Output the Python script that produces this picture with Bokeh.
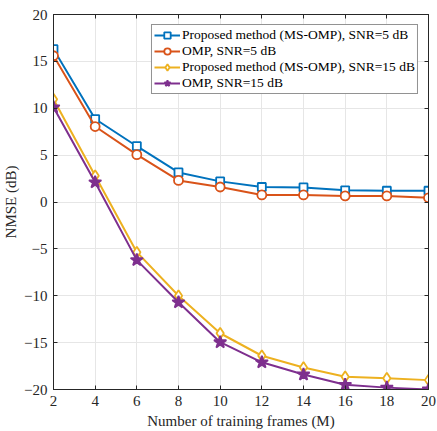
from bokeh.plotting import figure
from bokeh.models import LinearAxis, Range1d, FixedTicker, Legend, LegendItem
from bokeh.embed import file_html
from bokeh.resources import INLINE

frames = [2, 4, 6, 8, 10, 12, 14, 16, 18, 20]
msomp_5 = [16.3, 8.85, 5.95, 3.15, 2.2, 1.6, 1.55, 1.25, 1.2, 1.2]
omp_5 = [15.6, 8.05, 5.05, 2.3, 1.6, 0.75, 0.75, 0.65, 0.65, 0.45]
msomp_15 = [10.95, 2.8, -5.35, -10.0, -14.0, -16.4, -17.65, -18.65, -18.8, -19.0]
omp_15 = [10.1, 2.1, -6.2, -10.7, -14.95, -17.1, -18.4, -19.5, -19.8, -20.0]
x_ticks = [2, 4, 6, 8, 10, 12, 14, 16, 18, 20]
y_ticks = [-20, -15, -10, -5, 0, 5, 10, 15, 20]

labels = ["Proposed method (MS-OMP), SNR=5 dB", "OMP, SNR=5 dB",
          "Proposed method (MS-OMP), SNR=15 dB", "OMP, SNR=15 dB"]
colors = ["#0072BD", "#D95319", "#EDB120", "#7E2F8E"]
markers = ["square", "circle", "diamond", "star"]
sizes = [8, 9, 11, 13]

FONT = "Liberation Serif"
AX = "#262626"

p = figure(width=437, height=431, output_backend="svg", toolbar_location=None,
           x_range=Range1d(2, 20), y_range=Range1d(-20, 20),
           min_border_left=52, min_border_right=9, min_border_top=14, min_border_bottom=42)
p.outline_line_color = AX
p.background_fill_color = "white"

for ax in [p.xaxis[0], p.yaxis[0]]:
    ax.major_tick_in = 4
    ax.major_tick_out = 0
    ax.minor_tick_line_color = None
    ax.axis_line_color = AX
    ax.major_tick_line_color = AX
    ax.major_label_text_font = FONT
    ax.major_label_text_font_size = "15px"
    ax.major_label_text_color = AX
    ax.axis_label_text_font = FONT
    ax.axis_label_text_font_size = "15px"
    ax.axis_label_text_font_style = "normal"
    ax.axis_label_text_color = AX
p.xaxis.ticker = FixedTicker(ticks=x_ticks)
p.yaxis.ticker = FixedTicker(ticks=y_ticks)
p.xaxis.axis_label = "Number of training frames (M)"
p.yaxis.axis_label = "NMSE (dB)"
p.xaxis.major_label_standoff = 6
p.yaxis.major_label_standoff = 6
p.xaxis.axis_label_standoff = 4
p.yaxis.axis_label_standoff = 2

for loc, tk in [("right", y_ticks), ("above", x_ticks)]:
    a = LinearAxis(ticker=FixedTicker(ticks=tk),
                   major_label_overrides={t: "" for t in tk},
                   major_tick_in=4, major_tick_out=0, minor_tick_line_color=None,
                   axis_line_color=AX, major_tick_line_color=AX)
    p.add_layout(a, loc)

p.grid.grid_line_color = "#e6e6e6"
p.grid.grid_line_width = 1
p.xgrid.ticker = FixedTicker(ticks=x_ticks)
p.ygrid.ticker = FixedTicker(ticks=y_ticks)

series = [msomp_5, omp_5, msomp_15, omp_15]
items = []
for ys, c, m, s, lab in zip(series, colors, markers, sizes, labels):
    r1 = p.line(frames, ys, line_color=c, line_width=2)
    fill = c if m == "star" else "white"
    r2 = p.scatter(frames, ys, marker=m, size=s, line_color=c, line_width=1.8, fill_color=fill)
    items.append(LegendItem(label=lab, renderers=[r1, r2]))

leg = Legend(items=items, location="top_right")
leg.label_text_font = FONT
leg.label_text_font_size = "13.5px"
leg.label_text_color = "black"
leg.border_line_color = AX
leg.border_line_width = 1
leg.spacing = 0
leg.padding = 2
leg.margin = 10
leg.glyph_width = 26
leg.glyph_height = 16
leg.label_height = 16
leg.label_standoff = 2
leg.background_fill_alpha = 1
p.add_layout(leg, "center")

open("out.html", "w").write(file_html(p, INLINE))
